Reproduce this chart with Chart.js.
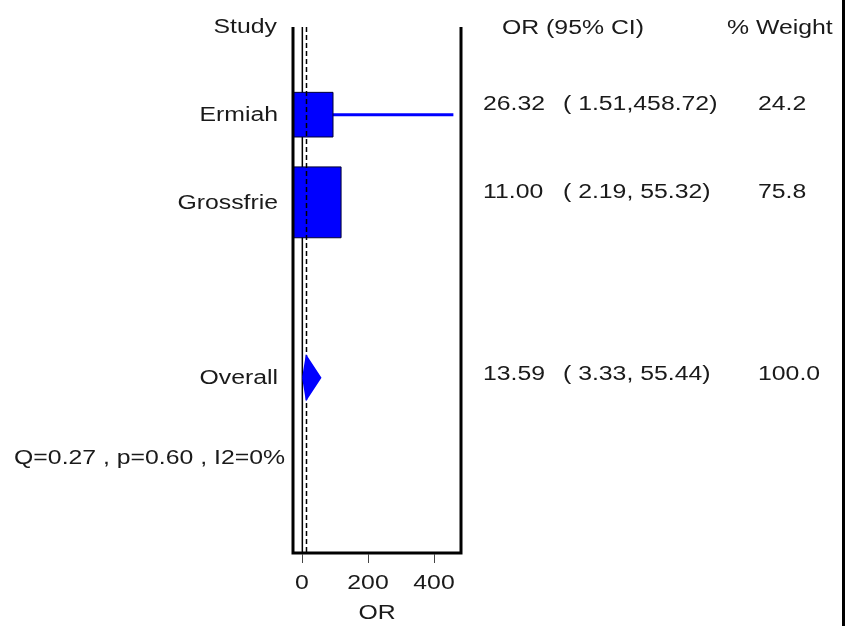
<!DOCTYPE html>
<html>
<head>
<meta charset="utf-8">
<script src="https://cdn.jsdelivr.net/npm/chart.js@4/dist/chart.umd.min.js"></script>
<style>
  html, body { margin: 0; padding: 0; background: #fff; }
  canvas { display: block; }
</style>
</head>
<body>
<canvas id="forestChart" width="846" height="626"></canvas>
<script>
// study level data
var studies = ['Ermiah', 'Grossfrie'];
var orValues = [26.32, 11.00];
var ciLow = [1.51, 2.19];
var ciHigh = [458.72, 55.32];
var weights = [24.2, 75.8];

// pooled result
var overallLabel = 'Overall';
var overallOR = 13.59;
var overallLow = 3.33;
var overallHigh = 55.44;
var overallWeight = 100.0;
var heterogeneity = 'Q=0.27 , p=0.60 , I2=0%';

var xTicks = [0, 200, 400];
var nullValue = 1;

// row positions on the y scale (top = 0)
var studyRows = [1, 2];
var overallRow = 4;
var statsRow = 5;

var BLUE = '#0000ff';
var FONT = '20px "Liberation Sans", Arial, sans-serif';
var SX = 1.24; // the original text is a wide bitmap font

function pad(str, n) {
  while (str.length < n) str = ' ' + str;
  return str;
}

function boxHalf(w) {
  return 3.46 * Math.sqrt(w) + 5.3;
}

function drawText(ctx, str, x, y, align) {
  ctx.save();
  ctx.translate(x, y);
  ctx.scale(SX, 1);
  ctx.textAlign = align;
  ctx.textBaseline = 'middle';
  ctx.fillText(str, 0, 0);
  ctx.restore();
}

var datasets = [];

datasets.push({
  type: 'line',
  data: [{ x: nullValue, y: 0 }, { x: nullValue, y: 6 }],
  borderColor: '#000',
  borderWidth: 1.5,
  pointRadius: 0,
  order: 6,
  clip: 0
});

studies.forEach(function (s, i) {
  datasets.push({
    type: 'line',
    data: [{ x: ciLow[i], y: studyRows[i] }, { x: ciHigh[i], y: studyRows[i] }],
    borderColor: BLUE,
    borderWidth: 3,
    pointRadius: 0,
    order: 5,
    clip: 0
  });
});

datasets.push({
  type: 'scatter',
  data: studies.map(function (s, i) { return { x: orValues[i], y: studyRows[i] }; }),
  pointStyle: 'rect',
  pointRadius: function (c) { return boxHalf(weights[c.dataIndex]) * Math.SQRT2; },
  backgroundColor: BLUE,
  borderColor: '#000033',
  borderWidth: 1,
  order: 4,
  clip: 0
});

datasets.push({
  type: 'line',
  data: [{ x: overallOR, y: 0 }, { x: overallOR, y: 6 }],
  borderColor: '#000',
  borderWidth: 1.5,
  borderDash: [5, 3],
  pointRadius: 0,
  order: 3,
  clip: 0
});

var dh = 0.24;
datasets.push({
  type: 'line',
  data: [
    { x: overallLow, y: overallRow },
    { x: overallOR, y: overallRow - dh },
    { x: overallHigh, y: overallRow },
    { x: overallOR, y: overallRow + dh },
    { x: overallLow, y: overallRow }
  ],
  borderColor: BLUE,
  backgroundColor: BLUE,
  borderWidth: 2,
  fill: 'shape',
  tension: 0,
  pointRadius: 0,
  order: 2,
  clip: 0
});

var forestPlugin = {
  id: 'forest',
  beforeDraw: function (chart) {
    var ctx = chart.ctx;
    ctx.save();
    ctx.fillStyle = '#fff';
    ctx.fillRect(0, 0, chart.width, chart.height);
    ctx.restore();
  },
  afterDatasetsDraw: function (chart) {
    var ctx = chart.ctx;
    var a = chart.chartArea;
    var xs = chart.scales.x;
    var ys = chart.scales.y;

    ctx.save();
    // frame: left, right, bottom
    ctx.strokeStyle = '#000';
    ctx.lineWidth = 3;
    ctx.beginPath();
    ctx.moveTo(a.left, a.top);
    ctx.lineTo(a.left, a.bottom);
    ctx.lineTo(a.right, a.bottom);
    ctx.lineTo(a.right, a.top);
    ctx.stroke();

    // image border on the right
    ctx.beginPath();
    ctx.moveTo(843.5, 0);
    ctx.lineTo(843.5, chart.height);
    ctx.stroke();

    // ticks
    ctx.lineWidth = 1;
    ctx.strokeStyle = '#444';
    xTicks.forEach(function (t) {
      var px = Math.round(xs.getPixelForValue(t)) + 0.5;
      ctx.beginPath();
      ctx.moveTo(px, a.bottom + 1);
      ctx.lineTo(px, a.bottom + 10);
      ctx.stroke();
    });

    ctx.fillStyle = '#1a1a1a';
    ctx.font = FONT;
    xTicks.forEach(function (t) {
      drawText(ctx, String(t), xs.getPixelForValue(t), a.bottom + 30, 'center');
    });
    drawText(ctx, 'OR', (a.left + a.right) / 2, a.bottom + 60, 'center');

    // headers
    drawText(ctx, 'Study', 277, 27, 'right');
    drawText(ctx, 'OR (95% CI)', 502, 28, 'left');
    drawText(ctx, '% Weight', 727, 28, 'left');

    var off = -10;
    studies.forEach(function (s, i) {
      var py = ys.getPixelForValue(studyRows[i]);
      drawText(ctx, s, 278, py + 1, 'right');
      drawText(ctx, orValues[i].toFixed(2), 483, py + off, 'left');
      drawText(ctx, '(' + pad(ciLow[i].toFixed(2), 5) + ',' + pad(ciHigh[i].toFixed(2), 6) + ')', 563, py + off, 'left');
      drawText(ctx, weights[i].toFixed(1), 758, py + off, 'left');
    });

    var oy = ys.getPixelForValue(overallRow);
    drawText(ctx, overallLabel, 278, oy + 1, 'right');
    drawText(ctx, overallOR.toFixed(2), 483, oy - 3, 'left');
    drawText(ctx, '(' + pad(overallLow.toFixed(2), 5) + ',' + pad(overallHigh.toFixed(2), 6) + ')', 563, oy - 3, 'left');
    drawText(ctx, overallWeight.toFixed(1), 758, oy - 3, 'left');

    drawText(ctx, heterogeneity, 285, ys.getPixelForValue(statsRow) - 7, 'right');
    ctx.restore();
  }
};

var config = {
  type: 'scatter',
  data: { datasets: datasets },
  options: {
    responsive: false,
    animation: false,
    events: [],
    layout: { autoPadding: false, padding: { left: 293, right: 385, top: 27, bottom: 73 } },
    plugins: { legend: { display: false }, tooltip: { enabled: false } },
    scales: {
      x: { type: 'linear', min: -27.3, max: 481.8, display: false },
      y: { type: 'linear', min: 0, max: 6, reverse: true, display: false }
    }
  },
  plugins: [forestPlugin]
};

var forestChart = new Chart(document.getElementById('forestChart'), config);
</script>
</body>
</html>
